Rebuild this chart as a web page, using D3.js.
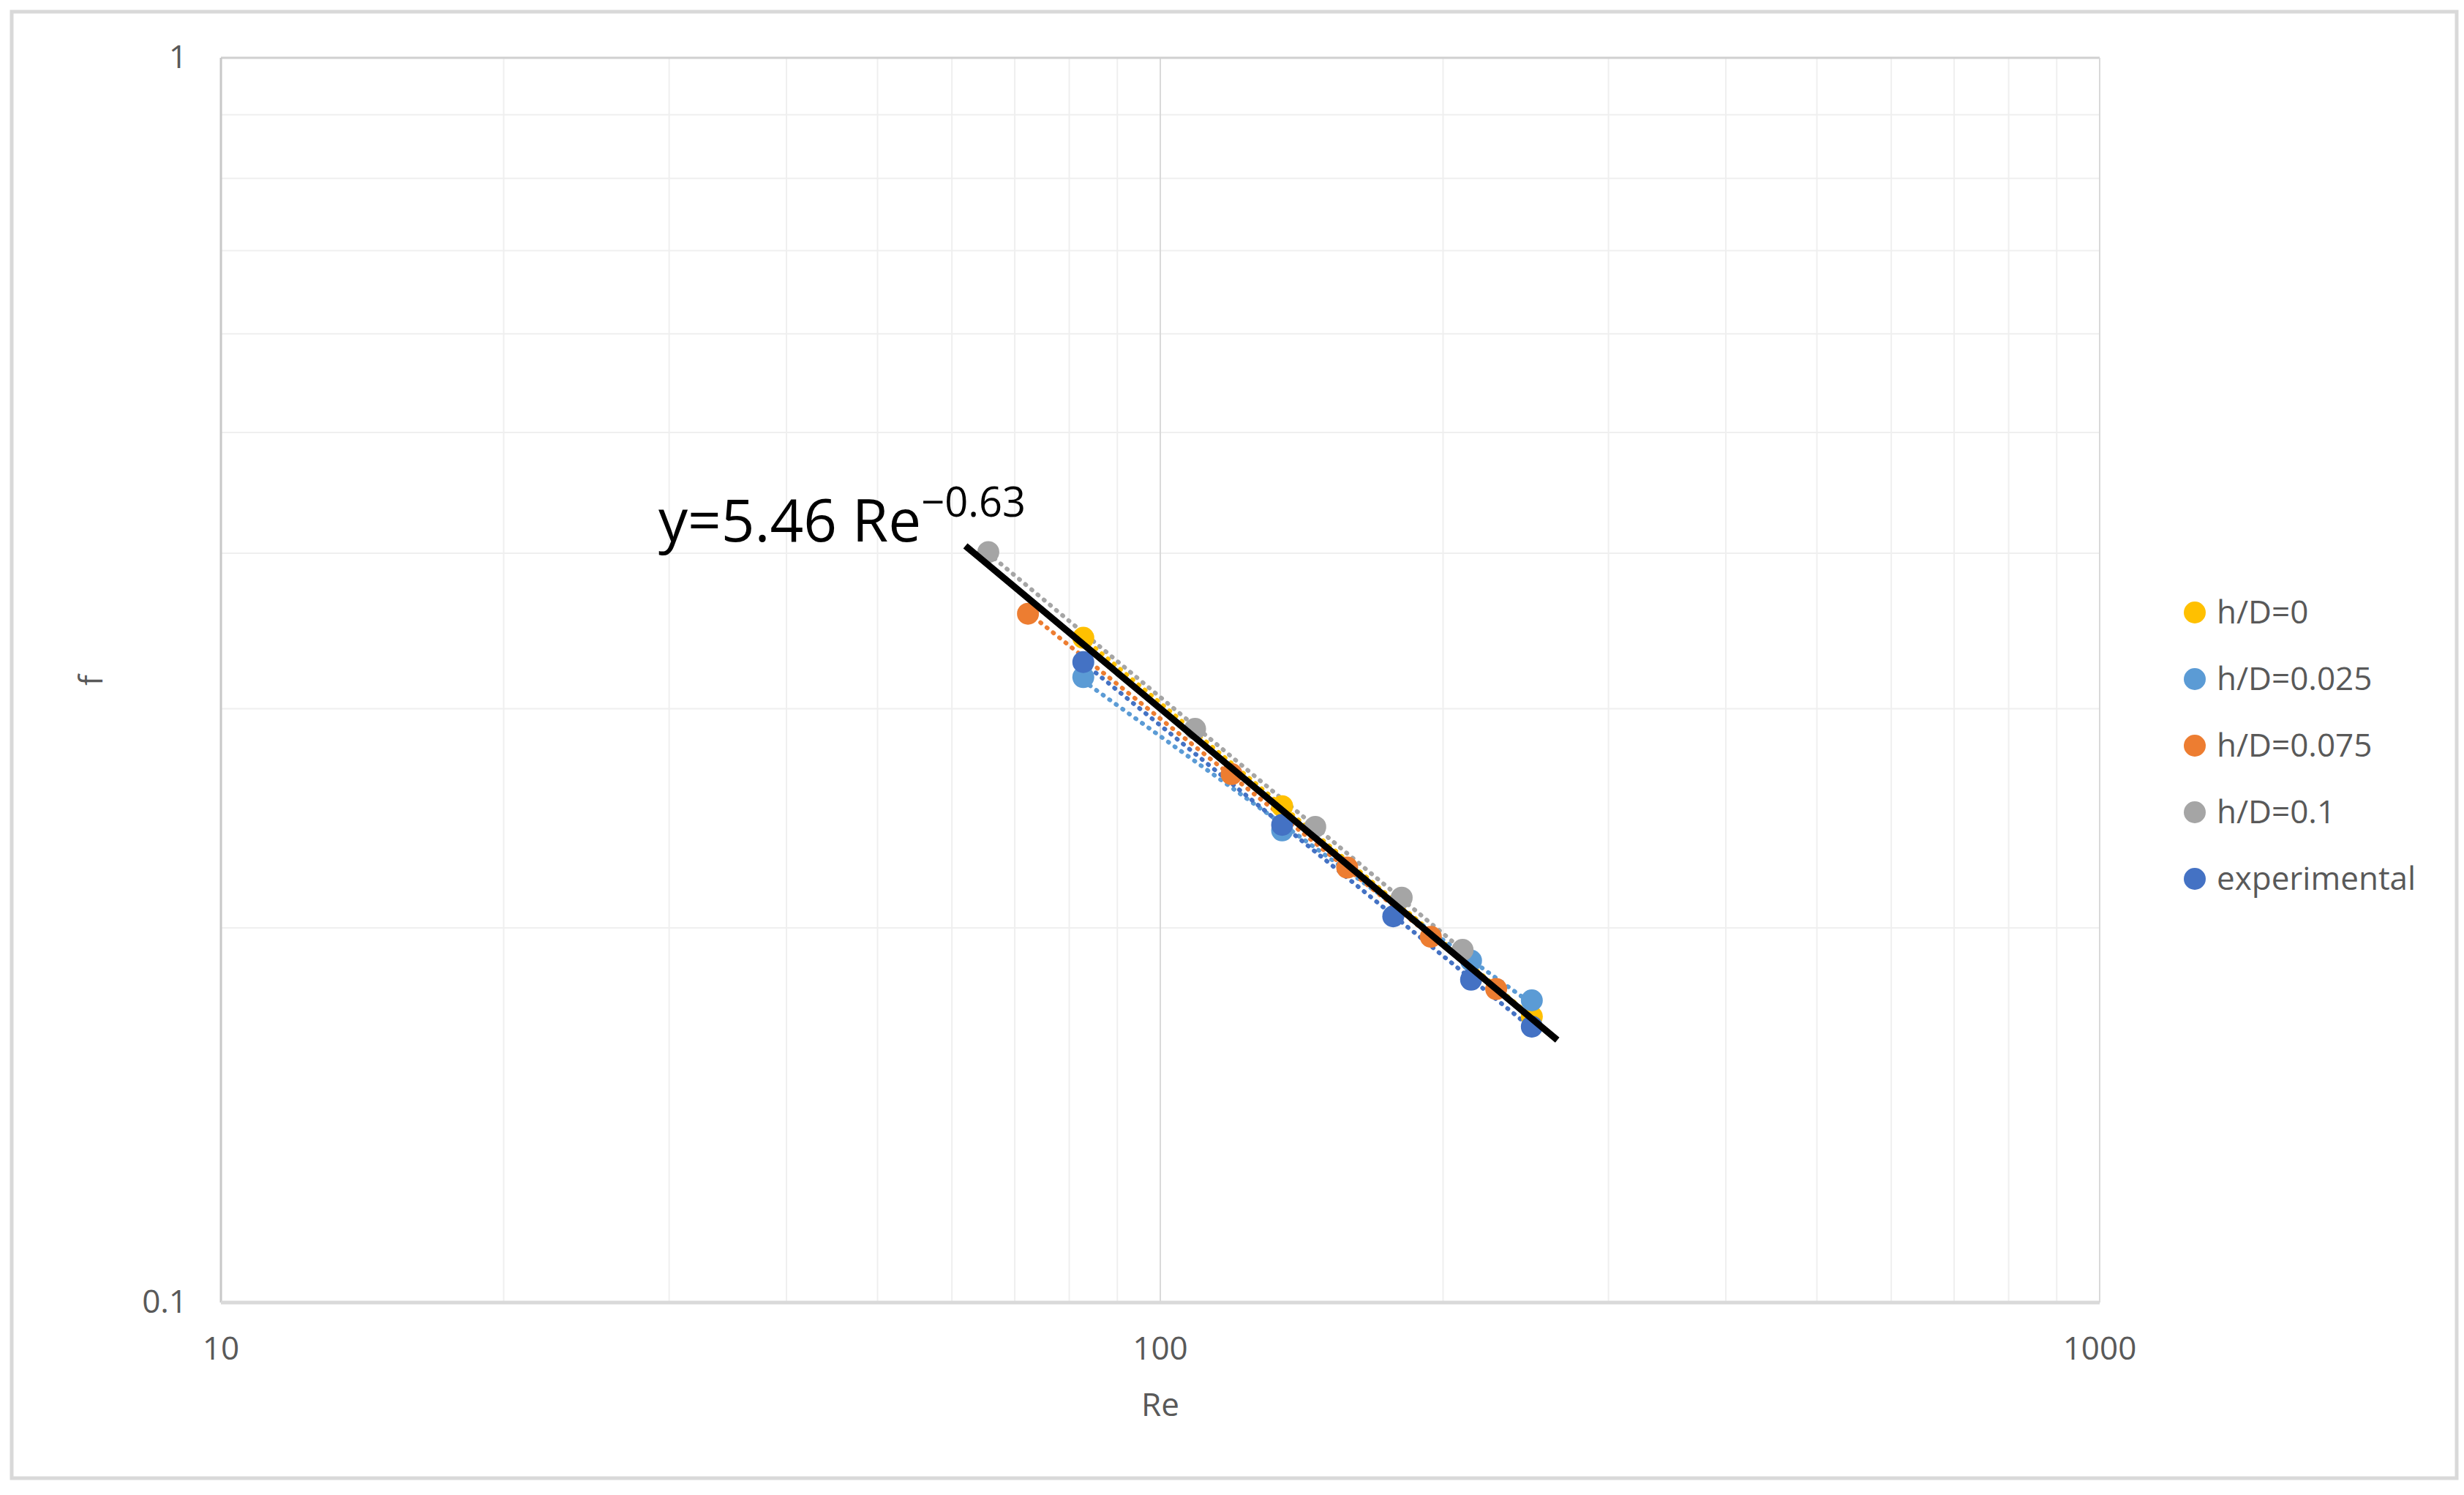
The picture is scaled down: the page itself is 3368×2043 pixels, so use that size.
<!DOCTYPE html>
<html>
<head>
<meta charset="utf-8">
<script src="https://cdn.jsdelivr.net/npm/d3@7"></script>
<style>
  body { margin: 0; background: #fff; }
  text { font-family: "Open Sans", "Noto Sans", sans-serif; }
</style>
</head>
<body>
<svg id="chart" width="3368" height="2043"></svg>
<script>
// series data (Re, f)
const seriesNames = ["h/D=0", "h/D=0.025", "h/D=0.075", "h/D=0.1", "experimental"];
const seriesColors = ["#ffc000", "#5b9bd5", "#ed7d31", "#a5a5a5", "#4472c4"];
const hd0 = [[82.8, 0.342], [134.8, 0.2505], [248.6, 0.1697]];
const hd025 = [[82.8, 0.318], [134.8, 0.2395], [214.2, 0.1882], [248.6, 0.1749]];
const hd075 = [[72.3, 0.3576], [119.1, 0.2658], [158.1, 0.2236], [194.1, 0.1967], [227.8, 0.1786]];
const hd01 = [[65.6, 0.4008], [108.9, 0.289], [146.2, 0.2411], [180.7, 0.2115], [209.8, 0.192]];
const experimental = [[82.8, 0.327], [134.8, 0.242], [177.0, 0.2043], [214.2, 0.1817], [248.6, 0.1666]];
const allSeries = [hd0, hd025, hd075, hd01, experimental];
const fitCoef = 5.46, fitExp = -0.63, fitRange = [62.4, 263];
const xTicks = [10, 100, 1000];
const yTicks = [0.1, 1];

const svg = d3.select("#chart");
const W = 3368, H = 2043;
const L = 302, R = 2870, T = 79, B = 1780;

svg.append("rect").attr("x", 16).attr("y", 16).attr("width", W - 26).attr("height", 2004)
  .attr("fill", "#fff").attr("stroke", "#d9d9d9").attr("stroke-width", 5);

const x = d3.scaleLog().domain([10, 1000]).range([L, R]);
const y = d3.scaleLog().domain([0.1, 1]).range([B, T]);

// minor grid
const minorX = d3.range(1, 3).flatMap(e => d3.range(2, 10).map(m => m * Math.pow(10, e)));
const minorY = d3.range(2, 10).map(m => m / 10);
svg.append("g").selectAll("line").data(minorX).join("line")
  .attr("x1", d => x(d)).attr("x2", d => x(d)).attr("y1", T).attr("y2", B)
  .attr("stroke", "#efefef").attr("stroke-width", 2);
svg.append("g").selectAll("line").data(minorY).join("line")
  .attr("x1", L).attr("x2", R).attr("y1", d => y(d)).attr("y2", d => y(d))
  .attr("stroke", "#efefef").attr("stroke-width", 2);
svg.append("line").attr("x1", x(100)).attr("x2", x(100)).attr("y1", T).attr("y2", B)
  .attr("stroke", "#d9d9d9").attr("stroke-width", 2);
// border
svg.append("line").attr("x1", L).attr("x2", R).attr("y1", T).attr("y2", T).attr("stroke", "#d0d0d0").attr("stroke-width", 3);
svg.append("line").attr("x1", R).attr("x2", R).attr("y1", T).attr("y2", B).attr("stroke", "#d9d9d9").attr("stroke-width", 2);
svg.append("line").attr("x1", L).attr("x2", L).attr("y1", T).attr("y2", B).attr("stroke", "#c8c8c8").attr("stroke-width", 3);
svg.append("line").attr("x1", L).attr("x2", R).attr("y1", B).attr("y2", B).attr("stroke", "#d9d9d9").attr("stroke-width", 5);

// tick labels
svg.append("g").selectAll("text").data(xTicks).join("text")
  .attr("x", d => x(d)).attr("y", 1858).attr("text-anchor", "middle")
  .attr("font-size", 44).attr("fill", "#595959").text(d => d);
svg.append("g").selectAll("text").data(yTicks).join("text")
  .attr("x", 256).attr("y", d => y(d) + 14).attr("text-anchor", "end")
  .attr("font-size", 44).attr("fill", "#595959").text(d => d);
svg.append("text").attr("x", x(100)).attr("y", 1935).attr("text-anchor", "middle")
  .attr("font-size", 44).attr("fill", "#595959").text("Re");
svg.append("text").attr("transform", `translate(140,${(T + B) / 2}) rotate(-90)`)
  .attr("text-anchor", "middle").attr("font-size", 44).attr("fill", "#595959").text("f");

// power trendlines (least squares in log space)
function powerFit(pts) {
  const lx = pts.map(p => Math.log(p[0])), ly = pts.map(p => Math.log(p[1]));
  const mx = d3.mean(lx), my = d3.mean(ly);
  const b = d3.sum(lx, (v, i) => (v - mx) * (ly[i] - my)) / d3.sum(lx, v => (v - mx) ** 2);
  const a = Math.exp(my - b * mx);
  return [a, b];
}
const line = d3.line().x(d => x(d[0])).y(d => y(d[1]));
allSeries.forEach((pts, i) => {
  const [a, b] = powerFit(pts);
  const ext = d3.extent(pts, p => p[0]);
  const xs = d3.range(0, 21).map(k => ext[0] * Math.pow(ext[1] / ext[0], k / 20));
  svg.append("path").datum(xs.map(v => [v, a * Math.pow(v, b)]))
    .attr("d", line).attr("fill", "none").attr("stroke", seriesColors[i])
    .attr("stroke-width", 6).attr("stroke-dasharray", "1,10").attr("stroke-linecap", "round");
});

// points
allSeries.forEach((pts, i) => {
  svg.append("g").selectAll("circle").data(pts).join("circle")
    .attr("cx", d => x(d[0])).attr("cy", d => y(d[1])).attr("r", 15)
    .attr("fill", seriesColors[i]);
});

// fitted correlation line
const fx = d3.range(0, 11).map(k => fitRange[0] * Math.pow(fitRange[1] / fitRange[0], k / 10));
svg.append("path").datum(fx.map(v => [v, fitCoef * Math.pow(v, fitExp)]))
  .attr("d", line).attr("fill", "none").attr("stroke", "#000").attr("stroke-width", 9)
  .attr("stroke-linecap", "square");

const eq = svg.append("text").attr("x", 900).attr("y", 740).attr("font-size", 80).attr("fill", "#000");
eq.append("tspan").text("y=5.46 Re");
eq.append("tspan").attr("dy", -34).attr("font-size", 56).text("\u22120.63");

// legend
const lg = svg.append("g").selectAll("g").data(seriesNames).join("g")
  .attr("transform", (d, i) => `translate(3000,${837 + i * 91})`);
lg.append("circle").attr("r", 15).attr("fill", (d, i) => seriesColors[i]);
lg.append("text").attr("x", 30).attr("y", 15).attr("font-size", 44).attr("fill", "#595959").text(d => d);
</script>
</body>
</html>
